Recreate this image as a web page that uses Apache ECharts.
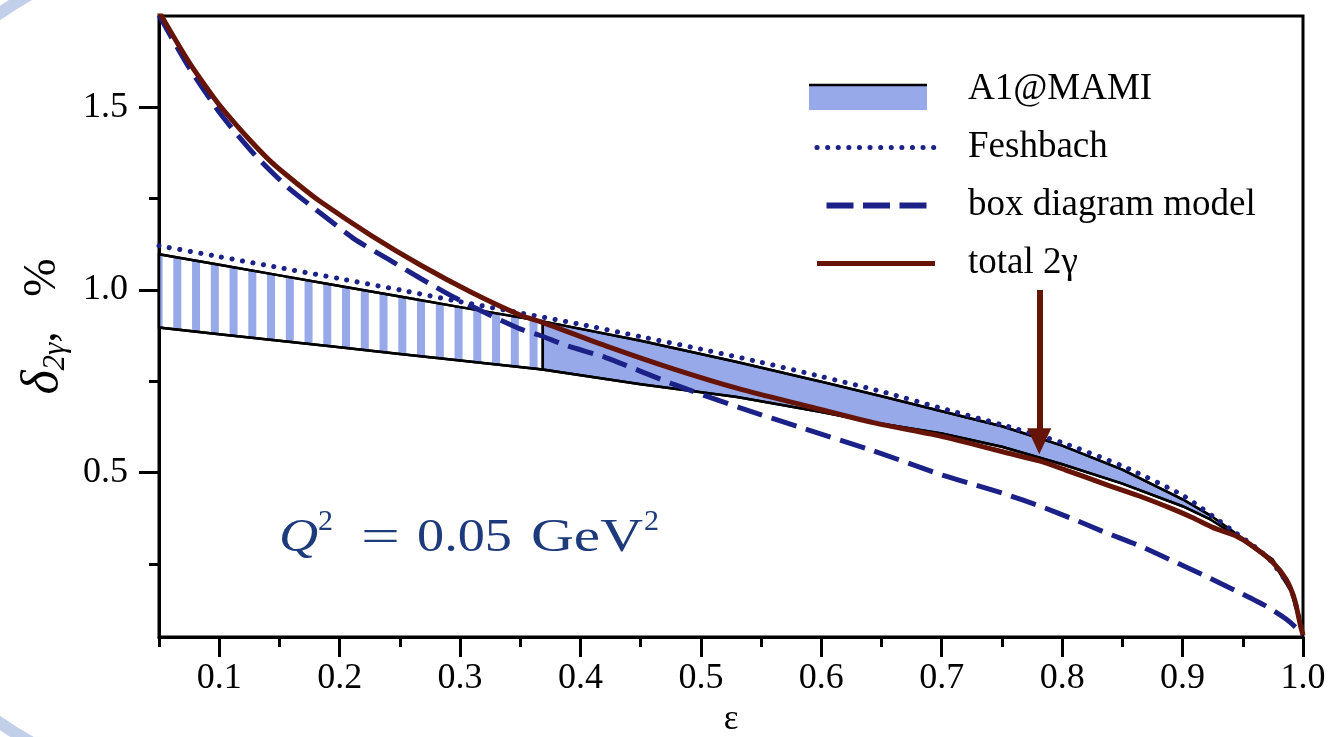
<!DOCTYPE html>
<html>
<head>
<meta charset="utf-8">
<script src="https://cdn.jsdelivr.net/npm/echarts@6/dist/echarts.min.js"></script>
<style>
html,body{margin:0;padding:0;background:#ffffff;}
#chart{width:1331px;height:737px;}
</style>
</head>
<body>
<div id="chart"></div>
<script>
// ---------- tick values ----------
const xMajorTicks = [0.1, 0.2, 0.3, 0.4, 0.5, 0.6, 0.7, 0.8, 0.9, 1.0];
const xMinorTicks = [0.05, 0.15, 0.25, 0.35, 0.45, 0.55, 0.65, 0.75, 0.85, 0.95];
const yMajorTicks = [0.5, 1.0, 1.5];
const yMinorTicks = [0.25, 0.75, 1.25];

// ---------- A1@MAMI band ----------
const bandX     = [0.05, 0.10, 0.15, 0.20, 0.25, 0.30, 0.3687, 0.45, 0.53, 0.60, 0.65, 0.70, 0.75, 0.80, 0.85, 0.90, 0.923, 0.947, 0.975, 0.99, 1.0];
const bandUpper = [1.098, 1.069, 1.040, 1.011, 0.982, 0.953, 0.914, 0.861, 0.803, 0.749, 0.709, 0.668, 0.627, 0.574, 0.508, 0.427, 0.383, 0.327, 0.262, 0.180, 0.058];
const bandLower = [0.897, 0.879, 0.861, 0.843, 0.825, 0.807, 0.782, 0.742, 0.707, 0.666, 0.634, 0.607, 0.571, 0.523, 0.470, 0.408, 0.372, 0.322, 0.255, 0.175, 0.058];
const hatchEndX = 0.3687;
const fillEndX = 0.923;

// ---------- Feshbach (dotted) ----------
const feshX = [0.05, 0.10, 0.15, 0.20, 0.25, 0.30, 0.35, 0.40, 0.45, 0.50, 0.55, 0.60, 0.65, 0.70, 0.75, 0.80, 0.85, 0.90, 0.94, 0.97, 0.99, 1.0];
const feshY = [1.121, 1.091, 1.061, 1.031, 1.000, 0.968, 0.937, 0.906, 0.872, 0.838, 0.802, 0.763, 0.722, 0.676, 0.631, 0.582, 0.518, 0.438, 0.345, 0.270, 0.180, 0.058];

// ---------- box diagram model (dashed) ----------
const boxX = [0.05, 0.074, 0.102, 0.13, 0.157, 0.185, 0.212, 0.24, 0.268, 0.295, 0.323, 0.351, 0.366, 0.39, 0.421, 0.477, 0.532, 0.587, 0.643, 0.698, 0.726, 0.753, 0.781, 0.809, 0.836, 0.864, 0.892, 0.919, 0.947, 0.969, 0.986, 0.997, 1.0];
const boxY = [1.752, 1.614, 1.478, 1.368, 1.281, 1.208, 1.140, 1.085, 1.030, 0.980, 0.934, 0.892, 0.876, 0.846, 0.815, 0.742, 0.678, 0.619, 0.560, 0.496, 0.468, 0.441, 0.409, 0.373, 0.336, 0.300, 0.258, 0.217, 0.172, 0.135, 0.099, 0.067, 0.055];

// ---------- total 2gamma (brown) ----------
const totX = [0.05, 0.0741, 0.0963, 0.1073, 0.125, 0.1433, 0.164, 0.1848, 0.2263, 0.2678, 0.3093, 0.3508, 0.366, 0.421, 0.477, 0.532, 0.587, 0.643, 0.698, 0.726, 0.753, 0.781, 0.803, 0.836, 0.864, 0.892, 0.908, 0.925, 0.944, 0.958, 0.975, 0.986, 0.993, 0.998, 1.0];
const totY = [1.762, 1.628, 1.523, 1.478, 1.412, 1.350, 1.293, 1.240, 1.149, 1.067, 0.994, 0.930, 0.914, 0.847, 0.784, 0.729, 0.683, 0.637, 0.601, 0.578, 0.555, 0.532, 0.507, 0.468, 0.436, 0.400, 0.377, 0.350, 0.327, 0.299, 0.254, 0.208, 0.153, 0.080, 0.055];

// ---------- arrow annotation (data coords) ----------
const arrowX = 0.781;
const arrowFromY = 1.0;
const arrowToY = 0.586;

const BLUE = '#97a9e8';
const NAVY = '#1c2188';
const BROWN = '#651407';
const QCOL = '#1d3a7c';
const FONT = 'Liberation Serif';

function zip(xs, ys) { return xs.map((x, i) => [x, ys[i]]); }

function makeStripePattern() {
  const c = document.createElement('canvas');
  c.width = 75; c.height = 8;
  const g = c.getContext('2d');
  g.fillStyle = '#ffffff';
  g.fillRect(0, 0, 75, 8);
  g.fillStyle = BLUE;
  for (let k = 0; k < 4; k++) g.fillRect(4.55 + k * 18.75, 0, 8, 8);
  return c;
}
const stripeCanvas = makeStripePattern();

const chart = echarts.init(document.getElementById('chart'), null, {renderer: 'canvas'});

const hidden = {opacity: 0};
const option = {
  backgroundColor: '#ffffff',
  animation: false,
  grid: {left: 159, right: 28, top: 16, bottom: 100, outerBoundsMode: 'none', containLabel: false,
    show: true, borderColor: '#000', borderWidth: 3, backgroundColor: 'transparent'},
  legend: {
    orient: 'vertical', left: 809, top: 66, itemWidth: 118, itemHeight: 26, itemGap: 21,
    textStyle: {fontFamily: FONT, fontSize: 37, color: '#000', padding: [0, 0, 0, 28], lineHeight: 36},
    selectedMode: false,
    data: [
      {name: 'A1@MAMI', icon: 'rect', itemStyle: hidden},
      {name: 'Feshbach', itemStyle: hidden, lineStyle: {color: NAVY, width: 5, type: [0.1, 10.5], cap: 'round'}},
      {name: 'box diagram model', itemStyle: hidden, lineStyle: {color: NAVY, width: 6, type: [27, 9.5], dashOffset: 27}},
      {name: 'total 2γ', itemStyle: hidden, lineStyle: {color: BROWN, width: 5}}
    ]
  },
  xAxis: [{
    type: 'value', min: 0.05, max: 1.0, position: 'bottom',
    name: 'ε', nameLocation: 'middle', nameGap: 58,
    nameTextStyle: {fontFamily: FONT, fontSize: 35, color: '#000'},
    axisLine: {show: true, onZero: false, lineStyle: {color: '#000', width: 3}},
    axisTick: {show: true, length: 20, customValues: xMajorTicks, lineStyle: {color: '#000', width: 3}},
    axisLabel: {customValues: xMajorTicks, formatter: v => v.toFixed(1), margin: 24, fontFamily: FONT, fontSize: 36, color: '#000'},
    splitLine: {show: false}
  }, {
    type: 'value', min: 0.05, max: 1.0, position: 'bottom', offset: 0,
    axisLine: {show: false},
    axisTick: {show: true, length: 10, customValues: xMinorTicks, lineStyle: {color: '#000', width: 3}},
    axisLabel: {show: false},
    splitLine: {show: false}
  }],
  yAxis: [{
    type: 'value', min: 0.05, max: 1.75, position: 'left',
    name: '{d|δ}{s|2γ}{n|,   %}', nameLocation: 'middle', nameGap: 88, nameRotate: 90,
    nameTextStyle: {
      rich: {
        d: {fontFamily: FONT, fontStyle: 'italic', fontSize: 52, color: '#000', lineHeight: 56},
        s: {fontFamily: FONT, fontStyle: 'italic', fontSize: 31, color: '#000', lineHeight: 31, verticalAlign: 'bottom'},
        n: {fontFamily: FONT, fontSize: 46, color: '#000', lineHeight: 56}
      }
    },
    axisLine: {show: true, onZero: false, lineStyle: {color: '#000', width: 3}},
    axisTick: {show: true, length: 20, customValues: yMajorTicks, lineStyle: {color: '#000', width: 3}},
    axisLabel: {customValues: yMajorTicks, formatter: v => v.toFixed(1), margin: 31, fontFamily: FONT, fontSize: 36, color: '#000'},
    splitLine: {show: false}
  }, {
    type: 'value', min: 0.05, max: 1.75, position: 'left', offset: 0,
    axisLine: {show: false},
    axisTick: {show: true, length: 10, customValues: yMinorTicks, lineStyle: {color: '#000', width: 3}},
    axisLabel: {show: false},
    splitLine: {show: false}
  }],
  graphic: [
    // slide decoration ring in the left corners
    {type: 'arc', z: -10, silent: true, shape: {cx: 243, cy: 368, r: 430, startAngle: Math.PI * 1.25, endAngle: Math.PI * 1.40}, style: {stroke: '#c2cfe8', lineWidth: 12, fill: null}},
    {type: 'arc', z: -10, silent: true, shape: {cx: 243, cy: 368, r: 430, startAngle: Math.PI * 0.60, endAngle: Math.PI * 0.75}, style: {stroke: '#c2cfe8', lineWidth: 12, fill: null}},
    // A1@MAMI legend swatch: blue band with black top edge
    {type: 'rect', z: 200, silent: true, shape: {x: 809, y: 85, width: 118, height: 25}, style: {fill: BLUE}},
    {type: 'line', z: 201, silent: true, shape: {x1: 809, y1: 85, x2: 927, y2: 85}, style: {stroke: '#000', lineWidth: 2.5}},
    // Q^2 annotation
    {type: 'text', x: 279, y: 516, scaleX: 1.18, style: {text: 'Q', font: 'italic 46px "Liberation Serif"', fill: QCOL, verticalAlign: 'top'}},
    {type: 'text', x: 318, y: 507, style: {text: '2', font: '30px "Liberation Serif"', fill: QCOL, verticalAlign: 'top'}},
    {type: 'text', x: 361, y: 516, scaleX: 1.5, style: {text: '=', font: '46px "Liberation Serif"', fill: QCOL, verticalAlign: 'top'}},
    {type: 'text', x: 417, y: 516, scaleX: 1.18, style: {text: '0.05', font: '46px "Liberation Serif"', fill: QCOL, verticalAlign: 'top'}},
    {type: 'text', x: 531, y: 516, scaleX: 1.29, style: {text: 'GeV', font: '46px "Liberation Serif"', fill: QCOL, verticalAlign: 'top'}},
    {type: 'text', x: 644, y: 507, style: {text: '2', font: '30px "Liberation Serif"', fill: QCOL, verticalAlign: 'top'}}
  ],
  series: [
    {
      name: 'A1@MAMI', type: 'custom', xAxisIndex: 0, yAxisIndex: 0, z: 1,
      itemStyle: {color: BLUE},
      data: [[0.2, 0.95], [0.6, 0.72]],
      renderItem: function (params, api) {
        const r = params.dataIndex;
        const x0 = r === 0 ? bandX[0] : hatchEndX;
        const x1 = r === 0 ? hatchEndX : fillEndX;
        const top = [], bot = [];
        for (let i = 0; i < bandX.length; i++) {
          if (bandX[i] >= x0 - 1e-9 && bandX[i] <= x1 + 1e-9) {
            top.push(api.coord([bandX[i], bandUpper[i]]));
            bot.push(api.coord([bandX[i], bandLower[i]]));
          }
        }
        return {
          type: 'polygon',
          shape: {points: top.concat(bot.reverse())},
          style: {fill: r === 0 ? {image: stripeCanvas, repeat: 'repeat'} : BLUE, stroke: '#000', lineWidth: 2.5}
        };
      }
    },
    {name: 'A1@MAMI upper', type: 'line', symbol: 'none', z: 2, data: zip(bandX, bandUpper), lineStyle: {color: '#000', width: 2.5}},
    {name: 'A1@MAMI lower', type: 'line', symbol: 'none', z: 2, data: zip(bandX, bandLower), lineStyle: {color: '#000', width: 2.5}},
    {name: 'Feshbach', type: 'line', symbol: 'none', z: 3, smooth: 0.2, data: zip(feshX, feshY), itemStyle: {color: NAVY},
      lineStyle: {color: NAVY, width: 5, type: [0.1, 10.5], cap: 'round'}},
    {name: 'box diagram model', type: 'line', symbol: 'none', z: 4, smooth: 0.2, data: zip(boxX, boxY), itemStyle: {color: NAVY},
      lineStyle: {color: NAVY, width: 5, type: [26, 10]}},
    {name: 'total 2γ', type: 'line', symbol: 'none', z: 5, smooth: 0.25, data: zip(totX, totY), itemStyle: {color: BROWN},
      lineStyle: {color: BROWN, width: 5},
      markLine: {
        silent: true, symbol: ['none', 'triangle'], symbolSize: [24, 26], label: {show: false},
        lineStyle: {color: BROWN, width: 6, type: 'solid'},
        emphasis: {disabled: true},
        data: [[{coord: [arrowX, arrowFromY]}, {coord: [arrowX, arrowToY]}]]
      }}
  ]
};
chart.setOption(option);
</script>
</body>
</html>
